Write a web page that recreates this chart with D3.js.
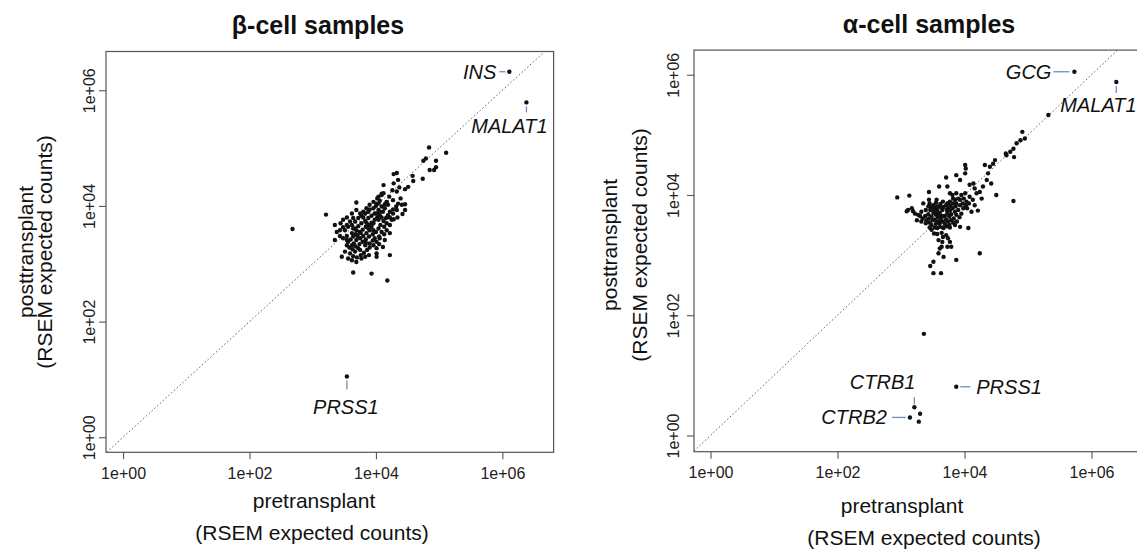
<!DOCTYPE html>
<html>
<head>
<meta charset="utf-8">
<script src="https://cdn.jsdelivr.net/npm/d3@7"></script>
<style>
  body { margin: 0; background: #fff; }
  svg { display: block; }
</style>
</head>
<body>
<script>
// log10 of RSEM expected counts, [pretransplant, posttransplant]
var betaLog10 = [
  [4.84,5.01],[5.11,4.92],[4.75,4.78],[4.79,4.82],[4.95,4.78],[4.85,4.62],[4.92,4.62],[4.95,4.67],
  [4.74,4.47],[4.58,4.52],[4.59,4.43],[4.33,4.57],[4.28,4.55],[4.35,4.45],[4.28,4.39],[4.37,4.32],
  [4.46,4.29],[4.51,4.33],[4.33,4.25],[4.26,4.27],[4.39,4.13],[4.46,4.03],[4.12,4.36],[4.21,4.16],
  [4.17,4.07],[4.27,4.10],[4.04,4.16],[4.09,4.21],[4.01,4.04],[3.21,3.85],[2.68,3.60],[3.64,2.85],
  [3.93,2.83],[4.18,2.71],
  [3.69,4.06],[3.62,3.87],[3.54,3.80],[3.48,3.76],[3.44,3.70],[3.35,3.67],[3.38,3.55],[3.43,3.58],
  [3.51,3.58],[3.56,3.64],[3.62,3.67],[3.67,3.73],[3.72,3.79],[3.77,3.83],[3.83,3.87],[3.88,3.90],
  [3.90,3.94],[3.96,3.96],[4.00,4.00],[4.04,4.04],[4.06,4.09],[4.02,4.13],[4.09,4.19],[4.12,4.22],
  [4.17,4.07],[4.19,4.02],[4.14,3.96],[4.11,3.90],[4.06,3.84],[4.02,3.80],[3.98,3.76],[3.93,3.71],
  [3.89,3.67],[3.84,3.64],[3.79,3.59],[3.74,3.55],[3.68,3.51],[3.64,3.47],[3.60,3.42],[3.56,3.38],
  [3.54,3.32],[3.58,3.28],[3.63,3.25],[3.68,3.30],[3.74,3.34],[3.79,3.38],[3.84,3.42],[3.89,3.47],
  [3.95,3.51],[4.00,3.55],[4.04,3.61],[4.07,3.67],[4.12,3.74],[4.16,3.79],[4.19,3.84],[4.22,3.90],
  [4.27,3.94],[4.32,3.99],[4.35,4.04],[4.41,4.02],[4.46,3.93],[4.25,3.76],[4.22,3.67],[4.17,3.58],
  [4.13,3.51],[4.06,3.44],[4.01,3.38],[3.96,3.32],[3.90,3.28],[3.86,3.24],[3.81,3.19],[3.76,3.15],
  [3.70,3.11],[3.64,3.13],[3.59,3.18],[3.51,3.21],[3.46,3.12],[3.56,3.09],[3.75,3.24],[3.89,3.15],
  [4.01,3.27],[4.05,3.47],[3.96,3.58],[3.90,3.58],[3.85,3.53],[3.80,3.48],[3.75,3.44],[3.69,3.41],
  [3.65,3.35],[3.62,3.53],[3.67,3.61],[3.72,3.65],[3.77,3.70],[3.83,3.74],[3.88,3.79],[3.93,3.83],
  [3.98,3.87],[4.04,3.93],[4.09,3.99],[4.14,4.03],[4.04,3.76],[4.09,3.80],[3.96,3.70],[3.85,3.71],
  [3.80,3.80],[3.75,3.87],[3.69,3.93],[3.64,3.79],[3.59,3.73],[3.54,3.67],[3.48,3.63],[3.43,3.48],
  [3.48,3.44],[3.54,3.48],[3.35,3.41],[3.64,3.61],[3.69,3.58],[4.22,3.15],[4.01,3.18],[3.77,3.09],
  [3.90,3.35],[3.83,3.32],[3.72,3.27],[3.67,3.21],[4.09,3.55],[4.13,3.64],[4.17,3.70],[4.22,3.80],
  [4.27,3.87],[4.33,3.93],[3.85,3.96],[3.80,3.90],[3.90,4.02],[3.96,4.07],[4.01,3.87],[4.06,3.90],
  [3.93,3.64],[3.88,3.61],[3.76,3.53],[3.71,3.48],[3.62,3.32],[3.54,3.41],[4.42,3.86],[4.34,3.80],
  [4.28,3.77],[4.22,3.53],[4.14,3.41],[3.98,3.44],[3.95,3.40],[3.84,3.36],[4.05,3.34],[4.11,3.29],
  [4.01,3.12],[3.83,3.12],[3.69,3.03],[3.62,3.06]
];
var betaGenes = [
  { gene: "INS",    pre: 6.11, post: 6.32 },
  { gene: "MALAT1", pre: 6.38, post: 5.79 },
  { gene: "PRSS1",  pre: 3.54, post: 1.05 }
];

var alphaLog10 = [
  [2.94,3.96],[3.13,3.99],[3.11,3.75],[3.17,3.78],[3.19,3.73],[3.09,3.73],[3.22,3.69],[3.27,3.67],
  [3.32,3.72],[3.35,3.86],[3.44,4.05],[3.44,3.92],[3.56,3.92],[3.60,4.14],[3.71,4.29],[3.73,4.14],
  [3.77,4.03],[3.87,4.33],[3.93,4.25],[4.01,4.50],[4.02,4.44],[4.01,4.36],[4.08,4.17],[4.14,4.19],
  [4.16,4.11],[4.19,4.03],[4.24,4.05],[4.27,3.94],[4.29,4.14],[4.35,4.25],[4.37,4.36],[4.40,4.47],
  [4.32,4.50],[4.45,4.52],[4.48,4.58],[4.42,4.19],[4.50,4.00],[4.66,4.66],[4.21,3.74],[4.11,3.72],
  [4.04,3.78],[4.03,3.89],[3.93,3.92],[3.87,3.86],[3.82,3.94],[3.74,3.86],
  [3.48,3.50],[3.53,3.46],[3.57,3.45],[3.61,3.47],[3.66,3.46],[3.72,3.48],[3.77,3.46],[3.85,3.50],
  [3.93,3.47],[4.06,3.45],[3.48,3.42],[3.52,3.36],[3.57,3.35],[3.64,3.37],[3.71,3.33],[3.74,3.28],
  [3.59,3.25],[3.65,3.22],[3.73,3.14],[3.77,3.22],[3.79,3.14],[3.61,3.11],[3.59,3.03],[3.67,2.97],
  [3.87,2.92],[4.24,3.03],[3.51,2.89],[3.46,2.82],[3.64,3.14],[3.66,3.30],[3.51,2.70],[3.63,2.70],
  [4.77,3.90],[4.91,5.05],[4.95,4.94],[4.88,4.91],[4.82,4.86],[4.77,4.77],[4.78,4.63],[4.72,4.72],
  [4.65,4.69],[5.32,5.33],[3.36,1.69],[3.30,0.36],[3.28,0.23],
  [3.51,3.83],[3.55,3.87],[3.58,3.81],[3.62,3.85],[3.66,3.89],[3.71,3.83],[3.74,3.78],[3.78,3.82],
  [3.82,3.86],[3.86,3.81],[3.90,3.75],[3.85,3.72],[3.79,3.68],[3.76,3.64],[3.71,3.59],[3.66,3.56],
  [3.62,3.58],[3.58,3.63],[3.55,3.67],[3.51,3.70],[3.46,3.75],[3.43,3.81],[3.39,3.75],[3.43,3.68],
  [3.48,3.64],[3.53,3.59],[3.57,3.56],[3.61,3.53],[3.69,3.65],[3.73,3.69],[3.65,3.75],[3.61,3.70],
  [3.57,3.75],[3.54,3.79],[3.65,3.65],[3.72,3.75],[3.77,3.74],[3.81,3.78],[3.87,3.67],[3.92,3.63],
  [3.95,3.69],[3.98,3.78],[3.97,3.86],[3.93,3.83],[3.83,3.61],[3.79,3.58],[3.74,3.56],[3.69,3.52],
  [3.64,3.63],[3.60,3.67],[3.56,3.70],[3.52,3.76],[3.48,3.80],[3.45,3.86],[3.67,3.80],[3.63,3.79],
  [3.73,3.86],[3.77,3.89],[3.85,3.92],[3.90,3.94],[3.99,3.94],[4.02,3.83],[4.07,3.86],[4.13,3.92],
  [4.16,3.83],[4.08,3.97],[4.01,4.03],[3.95,4.00],[3.87,4.03],[3.81,4.00],[3.38,3.65],[3.34,3.61],
  [3.30,3.65],[3.25,3.58],[3.32,3.56],[3.40,3.58],[3.45,3.54],[3.76,3.50],[3.82,3.54],[3.88,3.56],
  [3.50,3.58],[3.44,3.61],[3.39,3.53],[3.45,3.46],[3.55,3.52],[3.67,3.45]
];
var alphaGenes = [
  { gene: "GCG",    pre: 5.73, post: 6.05 },
  { gene: "MALAT1", pre: 6.39, post: 5.88 },
  { gene: "CTRB1",  pre: 3.21, post: 0.47 },
  { gene: "CTRB2",  pre: 3.14, post: 0.30 },
  { gene: "PRSS1",  pre: 3.87, post: 0.81 }
];

var tickValues = [1, 1e2, 1e4, 1e6];
var tickLabels = ["1e+00", "1e+02", "1e+04", "1e+06"];
var xTitleLines = ["pretransplant", "(RSEM expected counts)"];
var yTitleLines = ["posttransplant", "(RSEM expected counts)"];

var width = 1137, height = 549;
var font = "'Liberation Sans', Arial, Helvetica, sans-serif";
var ink = "#111";
var frame = "#555";
var noteColor = "#6d8dbd";

// label placement relative to the point, in pixels
var noteLayout = {
  beta: {
    INS:    { line: [-10, 0, -4, 0], text: [-13, 7], anchor: "end" },
    MALAT1: { line: [0, 4, 0, 10],   text: [-17, 31], anchor: "middle" },
    PRSS1:  { line: [0, 4, 0, 13],   text: [-1, 37], anchor: "middle" }
  },
  alpha: {
    GCG:    { line: [-21, 0, -5, 0], text: [-23, 7], anchor: "end" },
    MALAT1: { line: [0, 4, 0, 11],   text: [-56, 30], anchor: "start" },
    CTRB1:  { line: [0, -10, 0, -3], text: [1, -18], anchor: "end" },
    CTRB2:  { line: [-18, 0, -4, 0], text: [-23, 7], anchor: "end" },
    PRSS1:  { line: [4, 0, 14, 0],   text: [20, 7], anchor: "start" }
  }
};

var panels = [
  { key: "beta", title: "\u03b2-cell samples", pts: betaLog10, genes: betaGenes,
    left: 106, right: 553.6, bottom: 452.3, top: 51.5, xd: [-0.27, 6.81], yd: [-0.26, 6.67],
    titleX: 318, titleY: 34, yTickX: 95, yTitleX: [33, 52], yTitleY: 252, xTickY: 479,
    xTitle: [[314, 508], [312, 540]] },
  { key: "alpha", title: "\u03b1-cell samples", pts: alphaLog10, genes: alphaGenes,
    left: 694, right: 1148.7, bottom: 451.7, top: 50.1, xd: [-0.26, 6.9], yd: [-0.27, 6.41],
    titleX: 929, titleY: 33, yTickX: 679, yTitleX: [617, 647], yTitleY: 245, xTickY: 478.5,
    xTitle: [[902, 513], [924, 545]] }
];

var svg = d3.select("body").append("svg").attr("width", width).attr("height", height)
  .style("font-family", font);
svg.append("rect").attr("width", width).attr("height", height).attr("fill", "#fff");

panels.forEach(function(p) {
  var x = d3.scaleLog().domain([Math.pow(10, p.xd[0]), Math.pow(10, p.xd[1])]).range([p.left, p.right]);
  var y = d3.scaleLog().domain([Math.pow(10, p.yd[0]), Math.pow(10, p.yd[1])]).range([p.bottom, p.top]);
  var g = svg.append("g");

  var clipId = "clip-" + p.key;
  g.append("clipPath").attr("id", clipId).append("rect")
    .attr("x", p.left).attr("y", p.top).attr("width", p.right - p.left).attr("height", p.bottom - p.top);

  // identity line
  var lo = Math.pow(10, Math.max(p.xd[0], p.yd[0]));
  var hi = Math.pow(10, Math.min(p.xd[1], p.yd[1]));
  g.append("line").attr("clip-path", "url(#" + clipId + ")")
    .attr("x1", x(lo)).attr("y1", y(lo)).attr("x2", x(hi)).attr("y2", y(hi))
    .attr("stroke", "#666").attr("stroke-width", 1).attr("stroke-dasharray", "1.6,2.2");

  // points
  g.append("g").selectAll("circle").data(p.pts).enter().append("circle")
    .attr("cx", function(d) { return x(Math.pow(10, d[0])); })
    .attr("cy", function(d) { return y(Math.pow(10, d[1])); })
    .attr("r", 2.2).attr("fill", ink);

  // annotated genes
  var layout = noteLayout[p.key];
  p.genes.forEach(function(gn) {
    var cx = x(Math.pow(10, gn.pre)), cy = y(Math.pow(10, gn.post));
    var l = layout[gn.gene];
    g.append("line")
      .attr("x1", cx + l.line[0]).attr("y1", cy + l.line[1])
      .attr("x2", cx + l.line[2]).attr("y2", cy + l.line[3])
      .attr("stroke", noteColor).attr("stroke-width", 1.3);
    g.append("circle").attr("cx", cx).attr("cy", cy).attr("r", 2.2).attr("fill", ink);
    g.append("text").attr("x", cx + l.text[0]).attr("y", cy + l.text[1])
      .attr("text-anchor", l.anchor).attr("font-style", "italic")
      .attr("font-size", 20).attr("fill", ink).text(gn.gene);
  });

  // frame
  g.append("rect").attr("x", p.left).attr("y", p.top)
    .attr("width", p.right - p.left).attr("height", p.bottom - p.top)
    .attr("fill", "none").attr("stroke", frame).attr("stroke-width", 1.2);

  // x axis
  var xa = g.append("g").attr("transform", "translate(0," + p.bottom + ")")
    .call(d3.axisBottom(x).tickValues(tickValues).tickSize(7)
      .tickFormat(function(d, i) { return tickLabels[i]; }));
  xa.select(".domain").remove();
  xa.selectAll(".tick line").attr("stroke", frame).attr("stroke-width", 1.1);
  xa.selectAll(".tick text").attr("font-family", font).attr("font-size", 16).attr("fill", "#222")
    .attr("y", p.xTickY - p.bottom).attr("dy", 0);

  // y axis
  var ya = g.append("g").attr("transform", "translate(" + p.left + ",0)")
    .call(d3.axisLeft(y).tickValues(tickValues).tickSize(7)
      .tickFormat(function(d, i) { return tickLabels[i]; }));
  ya.select(".domain").remove();
  ya.selectAll(".tick line").attr("stroke", frame).attr("stroke-width", 1.1);
  ya.selectAll(".tick text").attr("font-family", font).attr("font-size", 16).attr("fill", "#222")
    .attr("x", 0).attr("dy", 0).attr("text-anchor", "middle")
    .attr("transform", "translate(" + (p.yTickX - p.left) + ",0) rotate(-90)");

  // titles
  g.append("text").attr("x", p.titleX).attr("y", p.titleY).attr("text-anchor", "middle")
    .attr("font-size", 25).attr("font-weight", "bold").attr("fill", ink).text(p.title);

  xTitleLines.forEach(function(t, i) {
    g.append("text").attr("x", p.xTitle[i][0]).attr("y", p.xTitle[i][1]).attr("text-anchor", "middle")
      .attr("font-size", 21).attr("fill", ink).text(t);
  });
  yTitleLines.forEach(function(t, i) {
    g.append("text").attr("text-anchor", "middle").attr("font-size", 21).attr("fill", ink)
      .attr("transform", "translate(" + p.yTitleX[i] + "," + p.yTitleY + ") rotate(-90)").text(t);
  });
});
</script>
</body>
</html>
